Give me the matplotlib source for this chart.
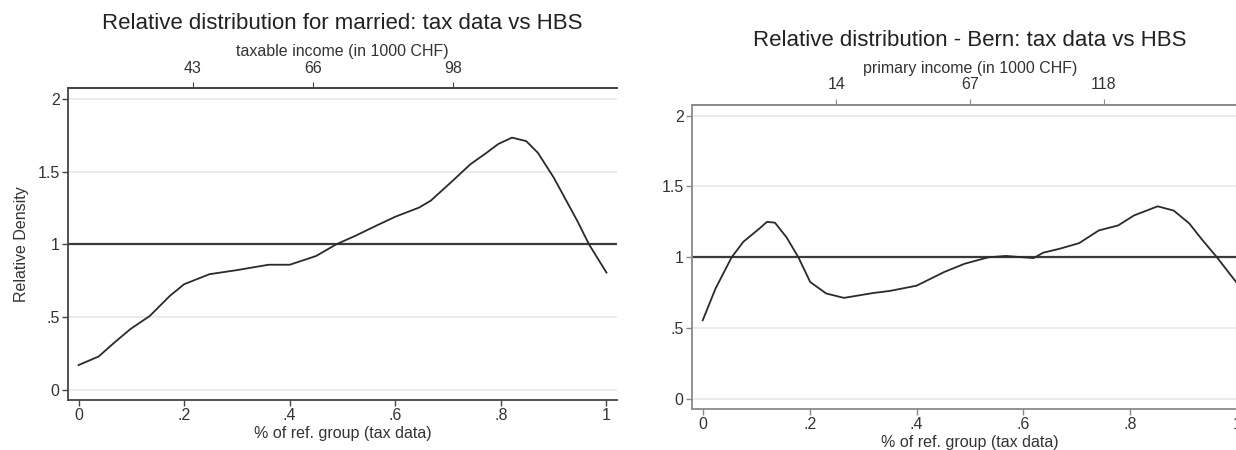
import numpy as np
import matplotlib
matplotlib.use('Agg')
import matplotlib.pyplot as plt

plt.rcParams['font.family'] = ['Liberation Sans', 'DejaVu Sans']

# left panel: married, taxable income
xMarried = [0.0, 0.038, 0.068, 0.098, 0.135, 0.173, 0.2, 0.248, 0.30, 0.36, 0.40,
            0.45, 0.488, 0.525, 0.563, 0.6, 0.645, 0.667, 0.705, 0.742, 0.773,
            0.795, 0.821, 0.848, 0.87, 0.90, 0.945, 0.967, 1.0]
yMarried = [0.17, 0.229, 0.325, 0.417, 0.508, 0.646, 0.726, 0.795, 0.823, 0.86, 0.86,
            0.92, 1.0, 1.06, 1.127, 1.19, 1.253, 1.30, 1.425, 1.55, 1.63,
            1.69, 1.734, 1.71, 1.63, 1.46, 1.16, 1.0, 0.806]
topPosMarried = [0.216, 0.445, 0.709]
topLabMarried = ['43', '66', '98']

# right panel: Bern, primary income
xBern = [0.0, 0.024, 0.054, 0.076, 0.105, 0.12, 0.135, 0.157, 0.179, 0.201, 0.231,
         0.264, 0.32, 0.35, 0.40, 0.452, 0.49, 0.534, 0.567, 0.6, 0.619, 0.637,
         0.667, 0.704, 0.741, 0.777, 0.807, 0.851, 0.881, 0.91, 0.933, 0.962, 1.0]
yBern = [0.556, 0.78, 1.0, 1.11, 1.20, 1.25, 1.245, 1.14, 1.0, 0.826, 0.745,
         0.714, 0.749, 0.763, 0.80, 0.897, 0.955, 1.0, 1.01, 1.0, 0.995, 1.033,
         1.06, 1.10, 1.19, 1.225, 1.296, 1.36, 1.33, 1.24, 1.13, 1.0, 0.815]
topPosBern = [0.25, 0.50, 0.75]
topLabBern = ['14', '67', '118']

xTicks = [0, 0.2, 0.4, 0.6, 0.8, 1]
xTickLabels = ['0', '.2', '.4', '.6', '.8', '1']
yTicks = [0, 0.5, 1, 1.5, 2]
yTickLabels = ['0', '.5', '1', '1.5', '2']

fig = plt.figure(figsize=(12.36, 4.5), dpi=100)


def drawPanel(rect, x, y, topPos, topLab, title, topLabel, spineColor, ylabel):
    ax = fig.add_axes(rect)
    ax.set_xlim(-0.02, 1.02)
    ax.set_ylim(-0.07, 2.075)
    for yy in [0, 0.5, 1.5, 2]:
        ax.axhline(yy, color='#e8e8e8', lw=1.2, zorder=1)
    ax.axhline(1, color='#3a3a3a', lw=1.6, zorder=2)
    ax.plot(x, y, color='#2a2a2a', lw=1.3, zorder=3)

    ax.set_xticks(xTicks)
    ax.set_xticklabels(xTickLabels)
    ax.set_yticks(yTicks)
    ax.set_yticklabels(yTickLabels)
    ax.tick_params(axis='both', labelsize=11.5, color=spineColor, length=4,
                   width=1, labelcolor='#333333', pad=2)
    ax.set_xlabel('% of ref. group (tax data)', fontsize=11.5, color='#333333', labelpad=2)
    if ylabel:
        ax.set_ylabel(ylabel, fontsize=11.5, color='#333333', labelpad=6)

    ax.spines['right'].set_visible(False)
    for s in ['left', 'bottom', 'top']:
        ax.spines[s].set_color(spineColor)
        ax.spines[s].set_linewidth(1.3)

    sec = ax.secondary_xaxis('top')
    sec.set_xticks(topPos)
    sec.set_xticklabels(topLab)
    sec.tick_params(labelsize=11.5, color=spineColor, length=4, labelcolor='#333333', pad=5)
    sec.spines['top'].set_color(spineColor)
    sec.spines['top'].set_linewidth(1.3)
    sec.set_xlabel(topLabel, fontsize=11.5, color='#333333', labelpad=3)
    ax.set_title(title, fontsize=16, color='#222222', pad=11)
    return ax


drawPanel([0.0550, 0.1111, 0.4442, 0.6933], xMarried, yMarried, topPosMarried, topLabMarried,
          'Relative distribution for married: tax data vs HBS', 'taxable income (in 1000 CHF)',
          '#444444', 'Relative Density')
drawPanel([0.5599, 0.0911, 0.4498, 0.6756], xBern, yBern, topPosBern, topLabBern,
          'Relative distribution - Bern: tax data vs HBS', 'primary income (in 1000 CHF)',
          '#8a8a8a', None)

fig.savefig('out.png', dpi=100)
